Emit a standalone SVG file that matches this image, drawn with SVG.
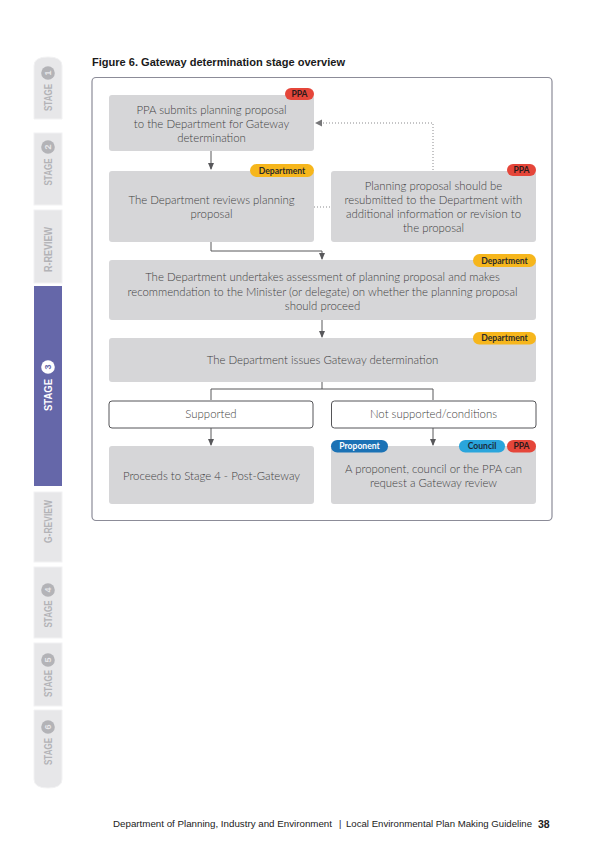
<svg xmlns="http://www.w3.org/2000/svg" width="599" height="848" viewBox="0 0 599 848">
<defs>
<style>
.tab{fill:#e7e7e9;stroke:#f2f2f3;stroke-width:1}
.tabt{font-family:"Liberation Sans",sans-serif;font-weight:700;font-size:11px;fill:#b3b3b7}
.tabc{fill:#b3b3b7}
.tabn{font-family:"Liberation Sans",sans-serif;font-weight:700;font-size:9px;fill:#e7e7e9}
.box{fill:#d6d6d8}
.wbox{fill:#ffffff;stroke:#555558;stroke-width:1}
.t{font-family:"Lato","Open Sans","Liberation Sans",sans-serif;font-weight:300;font-size:11.4px;fill:#3f3f42;text-anchor:middle}
.bd{font-family:"Lato","Liberation Sans",sans-serif;font-weight:700;font-size:8.6px;text-anchor:middle}
.ln{fill:none;stroke:#58585b;stroke-width:1}
.dt{fill:none;stroke:#8a8a8d;stroke-width:1;stroke-dasharray:1 2}
</style>
<marker id="ah" viewBox="0 0 8 8" refX="7" refY="4" markerWidth="7" markerHeight="7" markerUnits="userSpaceOnUse" orient="auto">
<path d="M0,0.5 L8,4 L0,7.5 z" fill="#58585b"/>
</marker>
</defs>
<rect width="599" height="848" fill="#ffffff"/>

<!-- side tabs -->
<g id="tab-stage1">
<path class="tab" d="M34,119 L34,66 Q34,57 48,57 Q62,57 62,66 L62,119 z"/>
<circle class="tabc" cx="48" cy="73" r="6.8"/>
<text class="tabn" transform="translate(48,73) rotate(-90)" text-anchor="middle" dy="3.2">1</text>
<text class="tabt" transform="translate(48,97.5) rotate(-90)" text-anchor="middle" dy="4" textLength="27" lengthAdjust="spacingAndGlyphs">STAGE</text>
</g>
<g id="tab-stage2">
<rect class="tab" x="34" y="133" width="28" height="72"/>
<circle class="tabc" cx="48" cy="147" r="6.8"/>
<text class="tabn" transform="translate(48,147) rotate(-90)" text-anchor="middle" dy="3.2">2</text>
<text class="tabt" transform="translate(48,172) rotate(-90)" text-anchor="middle" dy="4" textLength="27" lengthAdjust="spacingAndGlyphs">STAGE</text>
</g>
<g id="tab-rreview">
<rect class="tab" x="34" y="210" width="28" height="73"/>
<text class="tabt" transform="translate(48,249.5) rotate(-90)" text-anchor="middle" dy="4" textLength="45" lengthAdjust="spacingAndGlyphs">R-REVIEW</text>
</g>
<g id="tab-stage3">
<rect x="34" y="286" width="28" height="200" fill="#6567a9"/>
<circle cx="48" cy="367" r="6.8" fill="#ffffff"/>
<text class="tabn" style="fill:#6567a9" transform="translate(48,367) rotate(-90)" text-anchor="middle" dy="3.2">3</text>
<text class="tabt" style="fill:#ffffff" transform="translate(48,395) rotate(-90)" text-anchor="middle" dy="4" textLength="32" lengthAdjust="spacingAndGlyphs">STAGE</text>
</g>
<g id="tab-greview">
<rect class="tab" x="34" y="492" width="28" height="70"/>
<text class="tabt" transform="translate(48,521.5) rotate(-90)" text-anchor="middle" dy="4" textLength="43" lengthAdjust="spacingAndGlyphs">G-REVIEW</text>
</g>
<g id="tab-stage4">
<rect class="tab" x="34" y="567" width="28" height="71"/>
<circle class="tabc" cx="48" cy="590" r="6.8"/>
<text class="tabn" transform="translate(48,590) rotate(-90)" text-anchor="middle" dy="3.2">4</text>
<text class="tabt" transform="translate(48,614) rotate(-90)" text-anchor="middle" dy="4" textLength="27" lengthAdjust="spacingAndGlyphs">STAGE</text>
</g>
<g id="tab-stage5">
<rect class="tab" x="34" y="643" width="28" height="63"/>
<circle class="tabc" cx="48" cy="660" r="6.8"/>
<text class="tabn" transform="translate(48,660) rotate(-90)" text-anchor="middle" dy="3.2">5</text>
<text class="tabt" transform="translate(48,683.5) rotate(-90)" text-anchor="middle" dy="4" textLength="27" lengthAdjust="spacingAndGlyphs">STAGE</text>
</g>
<g id="tab-stage6">
<path class="tab" d="M34,710 L62,710 L62,779 Q62,788 48,788 Q34,788 34,779 z"/>
<circle class="tabc" cx="48" cy="727" r="6.8"/>
<text class="tabn" transform="translate(48,727) rotate(-90)" text-anchor="middle" dy="3.2">6</text>
<text class="tabt" transform="translate(48,751.5) rotate(-90)" text-anchor="middle" dy="4" textLength="27" lengthAdjust="spacingAndGlyphs">STAGE</text>
</g>

<!-- title -->
<text x="92" y="66" font-family="'Liberation Sans',sans-serif" font-weight="700" font-size="10.4" fill="#1a1a1a" textLength="253" lengthAdjust="spacingAndGlyphs">Figure 6. Gateway determination stage overview</text>

<!-- frame -->
<rect x="92" y="77.5" width="460" height="443" rx="4" fill="none" stroke="#8c8c98" stroke-width="1.2"/>

<!-- connectors -->
<g id="connectors">
<path class="ln" d="M211,151 V169" marker-end="url(#ah)"/>
<path class="ln" d="M211,242 V251 H322 V259" marker-end="url(#ah)"/>
<path class="ln" d="M322,320 V337" marker-end="url(#ah)"/>
<path class="ln" d="M322,382 V389 H211 V400"/>
<path class="ln" d="M322,389 H433 V400"/>
<path class="ln" d="M211,428 V445" marker-end="url(#ah)"/>
<path class="ln" d="M433,428 V445" marker-end="url(#ah)"/>
<path class="dt" d="M433,170 V123 H317"/>
<path d="M322,119.5 L315,123 L322,126.5 z" fill="#777779"/>
<path class="dt" d="M314,207 H331"/>
</g>

<!-- nodes -->
<g id="n1">
<rect class="box" x="109" y="95" width="205" height="56" rx="3"/>
<text class="t" x="211.5" y="114">PPA submits planning proposal</text>
<text class="t" x="211.5" y="128">to the Department for Gateway</text>
<text class="t" x="211.5" y="142">determination</text>
<rect x="285" y="88" width="29" height="12" rx="6" fill="#e5463a"/>
<text class="bd" x="299.5" y="97" fill="#2a1a1a">PPA</text>
</g>
<g id="n2">
<rect class="box" x="109" y="171" width="205" height="71" rx="3"/>
<text class="t" x="211.5" y="204">The Department reviews planning</text>
<text class="t" x="211.5" y="218">proposal</text>
<rect x="250" y="164" width="64" height="13" rx="6.5" fill="#f6b61c"/>
<text class="bd" x="282" y="173.5" fill="#2a2a2a">Department</text>
</g>
<g id="n3">
<rect class="box" x="331" y="171" width="205" height="71" rx="3"/>
<text class="t" x="433.5" y="190">Planning proposal should be</text>
<text class="t" x="433.5" y="204">resubmitted to the Department with</text>
<text class="t" x="433.5" y="218">additional information or revision to</text>
<text class="t" x="433.5" y="232">the proposal</text>
<rect x="507" y="164" width="29" height="12" rx="6" fill="#e5463a"/>
<text class="bd" x="521.5" y="173" fill="#2a1a1a">PPA</text>
</g>
<g id="n4">
<rect class="box" x="109" y="260" width="427" height="60" rx="3"/>
<text class="t" x="322.5" y="281">The Department undertakes assessment of planning proposal and makes</text>
<text class="t" x="322.5" y="295.5">recommendation to the Minister (or delegate) on whether the planning proposal</text>
<text class="t" x="322.5" y="310">should proceed</text>
<rect x="473" y="254" width="63" height="13" rx="6.5" fill="#f6b61c"/>
<text class="bd" x="504.5" y="263.5" fill="#2a2a2a">Department</text>
</g>
<g id="n5">
<rect class="box" x="109" y="338" width="427" height="44" rx="3"/>
<text class="t" x="322.5" y="364">The Department issues Gateway determination</text>
<rect x="473" y="332" width="63" height="12.5" rx="6.25" fill="#f6b61c"/>
<text class="bd" x="504.5" y="341.3" fill="#2a2a2a">Department</text>
</g>
<g id="n6">
<rect class="wbox" x="109" y="401" width="204" height="27" rx="3"/>
<text class="t" x="211" y="418">Supported</text>
</g>
<g id="n7">
<rect class="wbox" x="331.5" y="401" width="204.5" height="27" rx="3"/>
<text class="t" x="433.5" y="418">Not supported/conditions</text>
</g>
<g id="n8">
<rect class="box" x="109" y="446" width="205" height="58" rx="3"/>
<text class="t" x="211.5" y="480">Proceeds to Stage 4 - Post-Gateway</text>
</g>
<g id="n9">
<rect class="box" x="331" y="446" width="205" height="58" rx="3"/>
<text class="t" x="433.5" y="473">A proponent, council or the PPA can</text>
<text class="t" x="433.5" y="487">request a Gateway review</text>
<rect x="331" y="440" width="57" height="12.5" rx="6.25" fill="#1b72b5"/>
<text class="bd" x="359.5" y="449.3" fill="#ffffff">Proponent</text>
<rect x="459" y="440" width="46" height="12.5" rx="6.25" fill="#2aa5dc"/>
<text class="bd" x="482" y="449.3" fill="#1a2a3a">Council</text>
<rect x="507" y="440" width="29" height="12.5" rx="6.25" fill="#e5463a"/>
<text class="bd" x="521.5" y="449.3" fill="#2a1a1a">PPA</text>
</g>

<!-- footer -->
<text x="113" y="827" font-family="'Liberation Sans',sans-serif" font-size="9" fill="#222222" textLength="219" lengthAdjust="spacingAndGlyphs">Department of Planning, Industry and Environment</text>
<text x="339" y="827" font-family="'Liberation Sans',sans-serif" font-size="9" fill="#222222">|</text>
<text x="346" y="827" font-family="'Liberation Sans',sans-serif" font-size="9" fill="#222222" textLength="186" lengthAdjust="spacingAndGlyphs">Local Environmental Plan Making Guideline</text>
<text x="538" y="827.5" font-family="'Liberation Sans',sans-serif" font-weight="700" font-size="10.5" fill="#222222">38</text>
</svg>
